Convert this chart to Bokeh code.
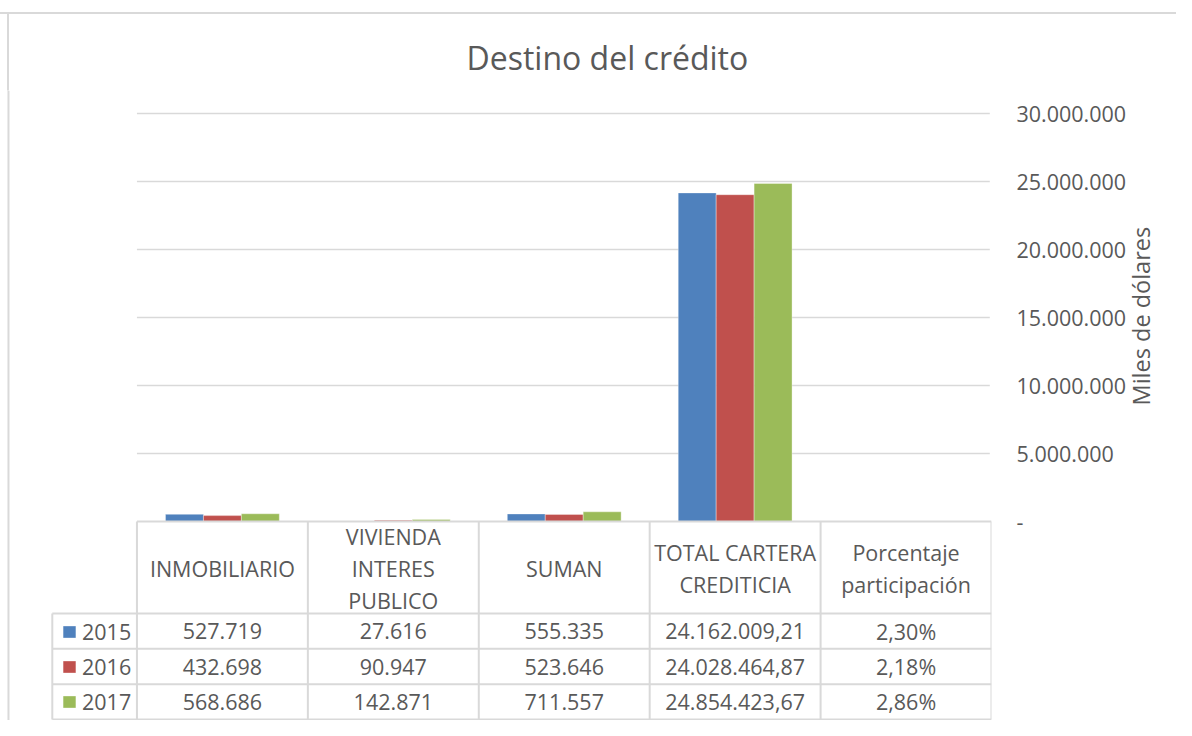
from bokeh.plotting import figure
from bokeh.models import (Range1d, LinearAxis, FixedTicker, ColumnDataSource, Legend,
                          LegendItem)
from bokeh.core.properties import value
from bokeh.embed import file_html
from bokeh.resources import INLINE
import math

# ---------------- data ----------------
categories = ["INMOBILIARIO", "VIVIENDA\nINTERES\nPUBLICO", "SUMAN",
              "TOTAL CARTERA\nCREDITICIA", "Porcentaje\nparticipación"]
years = ["2015", "2016", "2017"]
values_2015 = [527719, 27616, 555335, 24162009.21, 0.0230]
values_2016 = [432698, 90947, 523646, 24028464.87, 0.0218]
values_2017 = [568686, 142871, 711557, 24854423.67, 0.0286]
tick_values = [0, 5000000, 10000000, 15000000, 20000000, 25000000, 30000000]
colors = ["#4f81bd", "#c0504d", "#9bbb59"]
series = [values_2015, values_2016, values_2017]

# ---------------- helpers ----------------
def fmt_es(v):
    if isinstance(v, int):
        return f"{v:,}".replace(",", ".")
    if v < 1:
        return f"{v*100:.2f}%".replace(".", ",")
    s = f"{v:,.2f}"
    return s.replace(",", "X").replace(".", ",").replace("X", ".")

def tick_label(t):
    return "-" if t == 0 else f"{t:,}".replace(",", ".")

# ---------------- layout geometry (canvas pixels) ----------------
FIG_W, FIG_H = 1176, 720
FRAME_TOP = 90
FRAME_RIGHT = 995
ZERO_Y = 521             # canvas y of value 0
TOP_Y = 113              # canvas y of max tick
CAT_LEFT = 137
n = len(categories)
cat_w = (FRAME_RIGHT - CAT_LEFT) / n
vmax = tick_values[-1]
px_per_unit = (ZERO_Y - TOP_Y) / vmax

x_start = -CAT_LEFT / cat_w
y_start = -(FIG_H - ZERO_Y) / px_per_unit
y_end = (ZERO_Y - FRAME_TOP) / px_per_unit

TEXT = "#595959"
LINE = "#d9d9d9"
FONT = "Open Sans"
FS = "21.5px"

p = figure(width=FIG_W, height=FIG_H, output_backend="svg", toolbar_location=None,
           title="Destino del crédito",
           x_range=Range1d(x_start, n), y_range=Range1d(y_start, y_end),
           min_border_left=0, min_border_right=FIG_W - FRAME_RIGHT,
           min_border_top=FRAME_TOP, min_border_bottom=0,
           x_axis_location=None, y_axis_location=None)
p.outline_line_color = None
p.xgrid.visible = False
p.ygrid.visible = False
p.background_fill_color = "white"
p.border_fill_alpha = 0
# chart outer border (top line and upper part of the left line) behind the transparent border area
p.styles = {"background": (
    f"linear-gradient(to bottom, transparent 12px, {LINE} 12px, {LINE} 14px, transparent 14px), "
    f"linear-gradient(to right, transparent 7px, {LINE} 7px, {LINE} 9px, transparent 9px) "
    f"0 13px / 100% 100% no-repeat, white")}

# title
p.title.text_font = FONT
p.title.text_font_size = "32px"
p.title.text_font_style = "normal"
p.title.text_color = TEXT
p.title.align = "left"
p.title.offset = 466
p.title.standoff = 24

# pixel coordinate systems for the table and decorations
p.extra_x_ranges = {"px": Range1d(start=0, end=FRAME_RIGHT)}
p.extra_y_ranges = {"tbl": Range1d(start=FIG_H, end=FRAME_TOP)}

# left border line inside the plotting frame
p.segment(x0=[8], x1=[8], y0=[FRAME_TOP], y1=[FIG_H],
          line_color=LINE, line_width=2, x_range_name="px", y_range_name="tbl")

# right axis
ax = LinearAxis(ticker=FixedTicker(ticks=tick_values),
                major_label_overrides={t: tick_label(t) for t in tick_values},
                axis_label="Miles de dólares")
ax.axis_line_color = None
ax.major_tick_line_color = None
ax.minor_tick_line_color = None
ax.major_tick_out = 0
ax.major_tick_in = 0
ax.major_label_standoff = 25
ax.major_label_text_font = FONT
ax.major_label_text_font_size = FS
ax.major_label_text_color = TEXT
ax.axis_label_text_font = FONT
ax.axis_label_text_font_size = "23.5px"
ax.axis_label_text_font_style = "normal"
ax.axis_label_text_color = TEXT
ax.axis_label_standoff = 12
ax.axis_label_orientation = math.pi / 2
p.add_layout(ax, "right")

# gridlines (from tick values)
grid_ticks = [t for t in tick_values if t > 0]
p.segment(x0=[0] * len(grid_ticks), x1=[n - 0.01] * len(grid_ticks), y0=grid_ticks,
          y1=grid_ticks, line_color=LINE, line_width=1.5)

# bars
bar_w = 0.222
centers = [i + 0.5 for i in range(n)]
renderers = []
for k, (vals, col) in enumerate(zip(series, colors)):
    src = ColumnDataSource(dict(x=[c + (k - 1) * bar_w for c in centers], top=vals))
    r = p.vbar(x="x", top="top", bottom=0, width=bar_w, source=src,
               fill_color=col, line_color="white", line_alpha=0.35, line_width=1)
    renderers.append(r)

# table lines
HEADER_BOTTOM = 613
TABLE_BOTTOM = 719
ROW_H = (TABLE_BOTTOM - HEADER_BOTTOM) / len(years)
row_lines = [HEADER_BOTTOM + i * ROW_H for i in range(len(years) + 1)]
LEG_LEFT = 52
leg_x = (LEG_LEFT - CAT_LEFT) / cat_w
hx0 = [0] + [leg_x] * len(row_lines)
hx1 = [n] * (len(row_lines) + 1)
hy = [ZERO_Y] + row_lines
p.segment(x0=hx0, x1=hx1, y0=hy, y1=hy, line_color=LINE, line_width=2, y_range_name="tbl")
vx = list(range(n + 1)) + [leg_x]
vy0 = [ZERO_Y] * (n + 1) + [HEADER_BOTTOM]
vy1 = [TABLE_BOTTOM] * (n + 2)
p.segment(x0=vx, x1=vx, y0=vy0, y1=vy1, line_color=LINE, line_width=2, y_range_name="tbl")

# header texts
p.text(x=centers, y=[(ZERO_Y + HEADER_BOTTOM) / 2 + 1] * n, text=categories,
       text_align="center", text_baseline="middle", text_font=value(FONT),
       text_font_size=value(FS), text_color=TEXT, text_line_height=1.1,
       y_range_name="tbl")

# value cells
for k, vals in enumerate(series):
    yc = HEADER_BOTTOM + ROW_H * (k + 0.5)
    p.text(x=centers, y=[yc] * n, text=[fmt_es(v) for v in vals],
           text_align="center", text_baseline="middle", text_font=value(FONT),
           text_font_size=value(FS), text_color=TEXT, y_range_name="tbl")

# legend inside the table's first column
legend = Legend(items=[LegendItem(label=y, renderers=[r]) for y, r in zip(years, renderers)],
                location=(61, FIG_H - TABLE_BOTTOM),
                glyph_width=16, glyph_height=15, label_height=int(ROW_H), spacing=0,
                padding=0, margin=0, label_standoff=5,
                label_text_font=FONT, label_text_font_size=FS, label_text_color=TEXT,
                border_line_color=None, background_fill_alpha=0)
p.add_layout(legend, "center")

open("out.html", "w").write(file_html(p, INLINE))
